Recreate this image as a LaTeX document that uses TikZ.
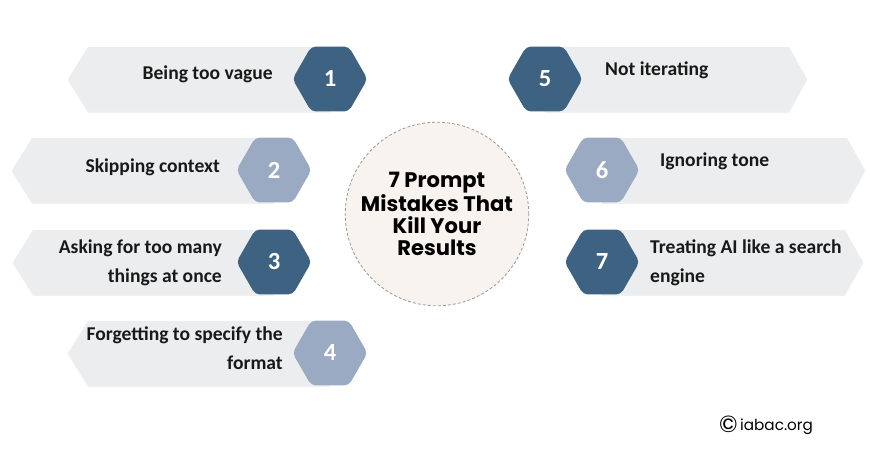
\documentclass[tikz,border=0pt]{standalone}
\usepackage{fontspec}
\setmainfont{Carlito}
\newfontfamily\titlefont{Poppins}
\usetikzlibrary{shapes.geometric, shadows}

\definecolor{hexdark}{HTML}{3E6382}
\definecolor{hexlight}{HTML}{9BAAC3}
\definecolor{bannergray}{HTML}{ECEDEE}
\definecolor{circlefill}{HTML}{F8F3EF}

\begin{document}
\begin{tikzpicture}[
    x=0.03cm, y=-0.03cm,
    banner/.style={fill=bannergray,
                   drop shadow={shadow xshift=0pt, shadow yshift=-1.5pt, opacity=0.12}},
    hexbox/.style={regular polygon, regular polygon sides=6, minimum size=2.25cm,
                   inner sep=0pt, rounded corners=4pt, text=white,
                   font=\bfseries\fontsize{21}{21}\selectfont},
    darkhex/.style={hexbox, fill=hexdark},
    lighthex/.style={hexbox, fill=hexlight},
    tag/.style={font=\bfseries\fontsize{16.7}{24}\selectfont, text=black!90, inner sep=0pt},
    ltag/.style={tag, align=right, anchor=base east},
    rtag/.style={tag, align=left, anchor=base west},
]
\useasboundingbox (0,0) rectangle (870,463);

% left banners
\fill[banner] (68,79) -- (88,47) -- (330,47) -- (330,111) -- (88,111) -- cycle;
\fill[banner] (12,170) -- (32,138) -- (274,138) -- (274,202) -- (32,202) -- cycle;
\fill[banner] (13,262) -- (33,230) -- (274,230) -- (274,294) -- (33,294) -- cycle;
\fill[banner] (68,353) -- (88,321) -- (330,321) -- (330,385) -- (88,385) -- cycle;

% right banners
\fill[banner] (807,79) -- (789,47) -- (545,47) -- (545,111) -- (789,111) -- cycle;
\fill[banner] (865,170) -- (847,138) -- (602,138) -- (602,202) -- (847,202) -- cycle;
\fill[banner] (863,262) -- (845,230) -- (602,230) -- (602,294) -- (845,294) -- cycle;

% number hexagons
\node[darkhex] (h1) at (330,79) {1};
\node[lighthex] (h2) at (274,170) {2};
\node[darkhex] (h3) at (274,262) {3};
\node[lighthex] (h4) at (330,353) {4};
\node[darkhex] (h5) at (545,79) {5};
\node[lighthex] (h6) at (602,170) {6};
\node[darkhex] (h7) at (602,262) {7};

% mistakes (multi-line ones sit on their last baseline)
\node[ltag] (t1) at (273,79) {Being too vague};
\node[ltag] (t2) at (220,172) {Skipping context};
\node[ltag] (t3) at (222,282) {Asking for too many\\things at once};
\node[ltag] (t4) at (283,369) {Forgetting to specify the\\format};
\node[rtag] (t5) at (605,75) {Not iterating};
\node[rtag] (t6) at (660,166) {Ignoring tone};
\node[rtag] (t7) at (650,282) {Treating AI like a search\\engine};

% centre
\node[circle, draw=black!40, fill=circlefill, line width=0.7pt,
      dash pattern=on 2.5pt off 1.8pt, minimum size=5.28cm, align=center,
      font=\titlefont\bfseries\fontsize{18}{19}\selectfont] (title) at (437,214)
    {7 Prompt\\Mistakes That\\Kill Your\\Results};

\node[font=\titlefont\fontsize{13}{13}\selectfont, inner sep=0pt] (src) at (766,425)
    {{\fontsize{20}{20}\selectfont\raisebox{-1.5pt}{©}}\,iabac.org};

\end{tikzpicture}
\end{document}
